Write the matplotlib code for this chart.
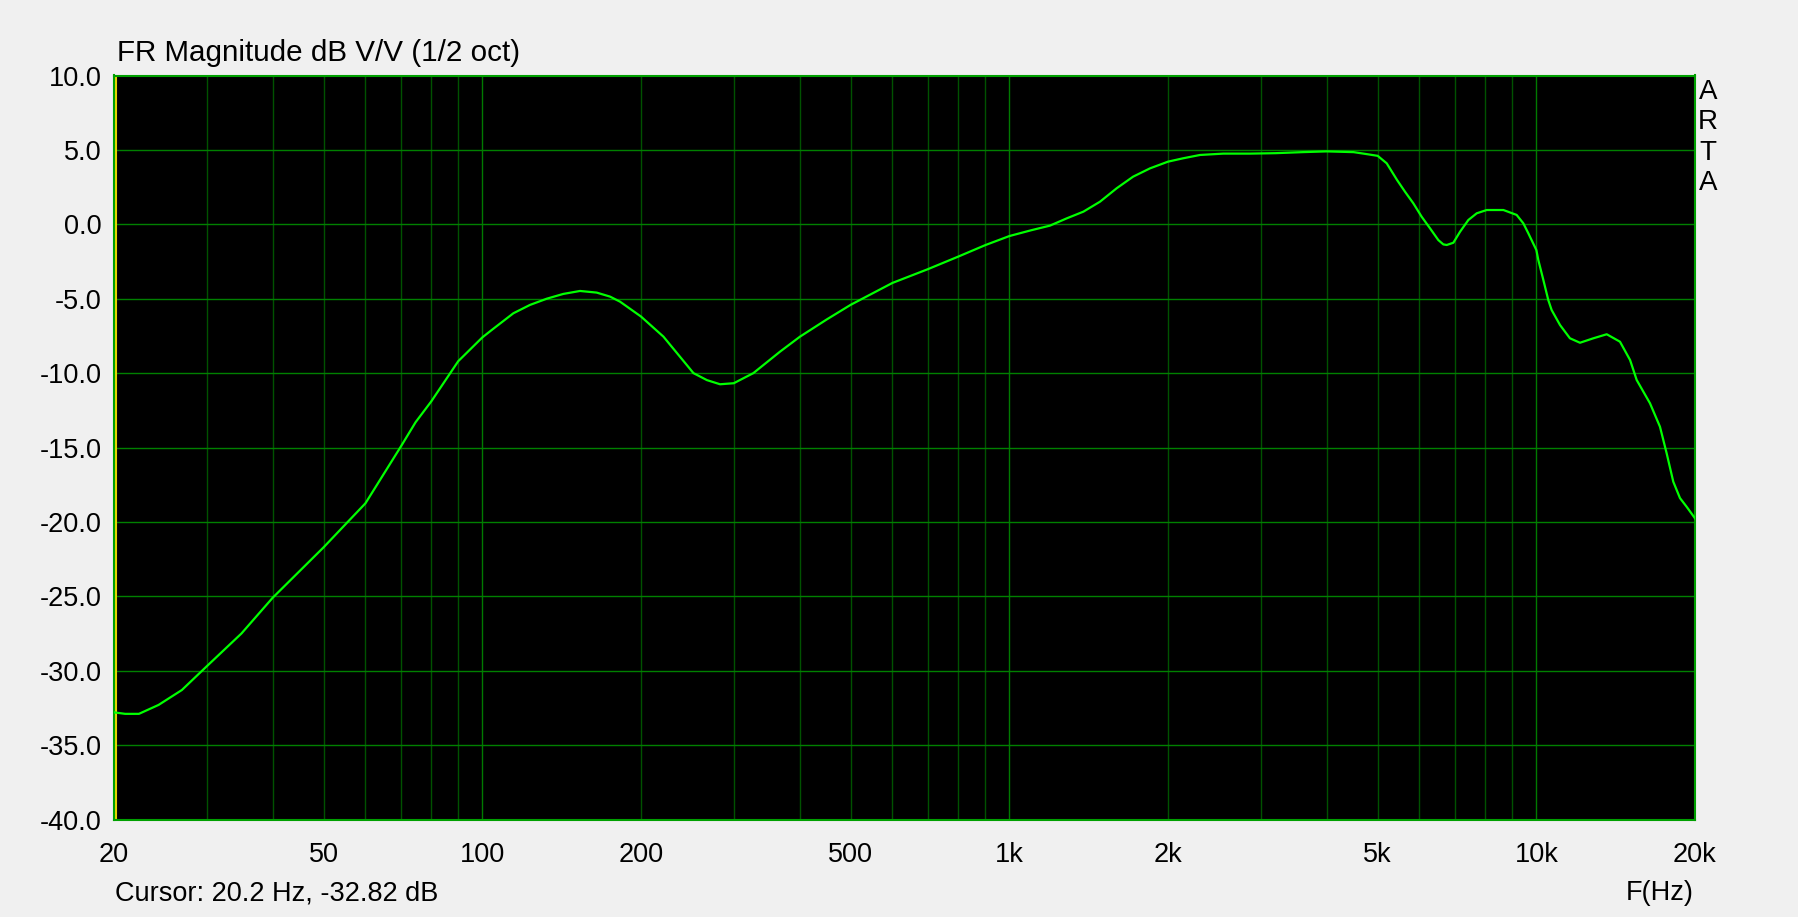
import matplotlib
matplotlib.use('Agg')
import matplotlib.pyplot as plt
from matplotlib.ticker import FixedLocator, NullFormatter

# frequency response (1/2 oct smoothing)
freq_hz = [20, 21, 22.3, 24.3, 26.9, 30, 34.9, 40, 50, 60,
           70, 74.7, 80, 90, 100, 104.2, 114.5, 123.1, 132.5, 142.4,
           153.2, 164.8, 174.7, 182.5, 200, 220.6, 251.5, 266.7, 282.5, 300,
           326.8, 367.1, 400.6, 450, 500, 600, 700, 800, 900, 1000,
           1100, 1194, 1285, 1382, 1486, 1598, 1717, 1849, 2000, 2139,
           2301, 2547, 2862, 3200, 3600, 4000, 4500, 4800, 5000, 5200,
           5440, 5633, 5842, 6058, 6284, 6516, 6660, 6760, 6958, 7165,
           7430, 7707, 8050, 8659, 9175, 9445, 9654, 10000, 10086, 10310,
           10535, 10690, 11090, 11580, 12100, 12830, 13600, 14410, 15060, 15500,
           16430, 17160, 17670, 18190, 18730, 19280, 20000]
mag_db = [-32.8, -32.9, -32.9, -32.3, -31.3, -29.7, -27.5, -25.1, -21.7, -18.75,
          -14.95, -13.3, -11.9, -9.2, -7.6, -7.1, -5.98, -5.42, -5.0, -4.68,
          -4.48, -4.59, -4.86, -5.2, -6.2, -7.55, -10.0, -10.47, -10.75, -10.68,
          -10.0, -8.56, -7.55, -6.4, -5.41, -3.94, -3.02, -2.17, -1.4, -0.79,
          -0.4, -0.09, 0.4, 0.85, 1.52, 2.42, 3.2, 3.76, 4.21, 4.44,
          4.66, 4.75, 4.75, 4.78, 4.85, 4.9, 4.85, 4.7, 4.6, 4.1,
          2.98, 2.19, 1.41, 0.51, -0.27, -1.06, -1.35, -1.39, -1.24, -0.5,
          0.29, 0.74, 0.96, 0.96, 0.63, 0.07, -0.6, -1.73, -2.4, -3.74,
          -5.09, -5.76, -6.77, -7.66, -7.96, -7.66, -7.39, -7.89, -9.12, -10.46,
          -12.03, -13.6, -15.39, -17.3, -18.4, -18.98, -19.76]

x_ticks = [20, 50, 100, 200, 500, 1000, 2000, 5000, 10000, 20000]
x_labels = ['20', '50', '100', '200', '500', '1k', '2k', '5k', '10k', '20k']
y_ticks = [10, 5, 0, -5, -10, -15, -20, -25, -30, -35, -40]
y_labels = ['10.0', '5.0', '0.0', '-5.0', '-10.0', '-15.0', '-20.0', '-25.0', '-30.0', '-35.0', '-40.0']
cursor_hz = 20.2
cursor_db = -32.82

plt.rcParams['font.family'] = ['Liberation Sans', 'DejaVu Sans']

fig = plt.figure(figsize=(17.98, 9.17), dpi=100, facecolor='#f0f0f0')
ax = fig.add_axes([114 / 1798, 1 - 819.5 / 917, 1581 / 1798, 744 / 917])
ax.set_facecolor('black')
ax.set_xscale('log')
ax.set_xlim(20, 20000)
ax.set_ylim(-40, 10)

# grid: every 1..9 step per decade on x, 5 dB on y
minor = []
for dec in [10, 100, 1000, 10000]:
    for m in range(1, 10):
        f = dec * m
        if 20 < f < 20000 and f not in (100, 1000, 10000):
            minor.append(f)
for f in minor:
    ax.axvline(f, color='#005200', lw=1.0, zorder=1)
for f in [100, 1000, 10000]:
    ax.axvline(f, color='#007a00', lw=1.0, zorder=1)
for y in y_ticks[1:-1]:
    ax.axhline(y, color='#008000', lw=1.0, zorder=1)

ax.axvline(cursor_hz, color='#e6d800', lw=1.5, zorder=2)
ax.plot(freq_hz, mag_db, color='#00ff00', lw=1.6, zorder=3)

ax.xaxis.set_minor_locator(FixedLocator([]))
ax.xaxis.set_minor_formatter(NullFormatter())
ax.set_xticks(x_ticks)
ax.set_xticklabels(x_labels)
ax.set_yticks(y_ticks)
ax.set_yticklabels(y_labels)
ax.tick_params(axis='both', length=0, labelsize=19.5, colors='black')
ax.tick_params(axis='x', pad=16)
ax.tick_params(axis='y', pad=9)
for s in ax.spines.values():
    s.set_color('#00a000')
    s.set_linewidth(1.5)

fig.text(117 / 1798, 1 - 61 / 917, 'FR Magnitude dB V/V (1/2 oct)', fontsize=21.3,
         ha='left', va='baseline')
fig.text(1708 / 1798, 1 - 79 / 917, 'A\nR\nT\nA', fontsize=20, ha='center',
         va='top', linespacing=1.22, multialignment='center')
fig.text(115 / 1798, 1 - 900 / 917, 'Cursor: %.1f Hz, %.2f dB' % (cursor_hz, cursor_db),
         fontsize=19.5, ha='left', va='baseline')
fig.text(1694 / 1798, 1 - 900 / 917, 'F(Hz)', fontsize=19.5, ha='right', va='baseline')

fig.savefig('out.png', dpi=100, facecolor=fig.get_facecolor())
